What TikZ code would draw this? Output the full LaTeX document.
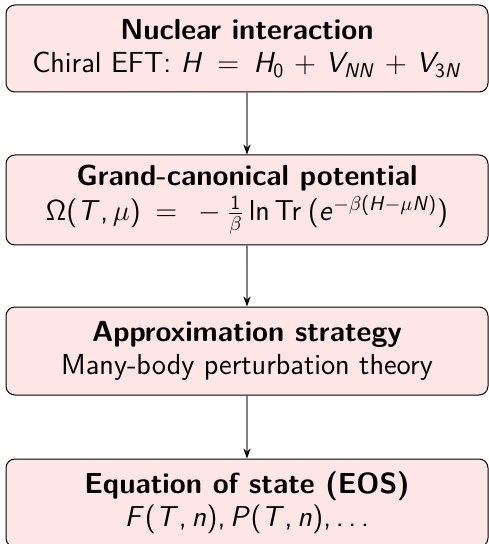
\documentclass[tikz,border=0pt]{standalone}
\usetikzlibrary{arrows.meta}

% Sans-serif text and sans-serif math
\renewcommand{\familydefault}{\sfdefault}
\DeclareSymbolFont{operators}{OT1}{cmss}{m}{n}
\DeclareSymbolFont{letters}{OT1}{cmss}{m}{sl}
\DeclareSymbolFont{greekletters}{OML}{cmm}{m}{it}
\DeclareMathSymbol{\beta}{\mathord}{greekletters}{"0C}
\DeclareMathSymbol{\mu}{\mathord}{greekletters}{"16}
\DeclareMathSymbol{,}{\mathpunct}{operators}{"2C}
\DeclareMathSymbol{\ldotp}{\mathpunct}{operators}{"2E}
\DeclareMathSymbol{\Omega}{\mathalpha}{operators}{"0A}
\newcommand{\Trace}{\mathop{\mathrm{Tr}}\nolimits}
\newcommand{\wideeq}{\mskip 9mu{=}\mskip 9mu}
\newcommand{\wideplus}{\mskip 6mu{+}\mskip 6mu}

\definecolor{boxfill}{RGB}{255,230,230}

\tikzset{
  stagebox/.style={draw=black, line width=0.5pt, fill=boxfill,
    rounded corners=4.5pt, minimum width=241pt,
    align=center, inner sep=0pt,
    font=\fontsize{14.5}{16.5}\selectfont},
  flowarrow/.style={draw=gray, line width=0.6pt,
    -{Stealth[length=5pt,width=3.6pt,black]}}
}

\begin{document}
\begin{tikzpicture}
  \useasboundingbox (0,0) rectangle (244pt,-272pt);

  \node[stagebox, minimum height=43.5pt] (nuc) at (123.5pt,-24.25pt)
    {\textbf{Nuclear interaction}\\
     Chiral EFT: $H \wideeq H_0 \wideplus V_{NN} \wideplus V_{3N}$};

  \node[stagebox, minimum height=45pt] (omega) at (123.5pt,-100pt)
    {\textbf{Grand-canonical potential}\\[1pt]
     $\Omega(T,\mu) \wideeq -\frac{1}{\beta}\ln\Trace\mskip 4mu\bigl(e^{-\beta(H-\mu N)}\bigr)$};

  \node[stagebox, minimum height=44pt] (approx) at (123.5pt,-175.5pt)
    {\textbf{Approximation strategy}\\
     Many-body perturbation theory};

  \node[stagebox, minimum height=44pt] (eos) at (123.5pt,-251.5pt)
    {\textbf{Equation of state (EOS)}\\
     $F(T,n), P(T,n), \ldots$};

  \draw[flowarrow] (nuc.south) -- (omega.north);
  \draw[flowarrow] (omega.south) -- (approx.north);
  \draw[flowarrow] (approx.south) -- (eos.north);
\end{tikzpicture}
\end{document}
